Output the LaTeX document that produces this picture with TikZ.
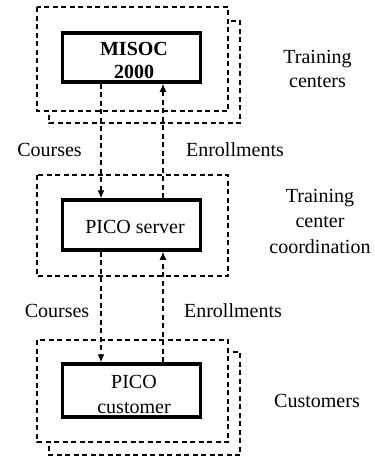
\documentclass[tikz,border=0pt]{standalone}
\usepackage{fontspec}
\setmainfont{Liberation Serif}
\usetikzlibrary{arrows.meta}
\begin{document}
\begin{tikzpicture}[x=1pt,y=-1pt,
  grp/.style={draw, line width=1.4pt, dash pattern=on 5pt off 3.5pt},
  grpfront/.style={grp, fill=white},
  sys/.style={draw, line width=3.5pt, fill=white, minimum width=138pt, inner sep=0pt},
  flow/.style={line width=1.2pt, dash pattern=on 5pt off 3.5pt, -{Latex[length=8pt,width=7pt]}},
  txt/.style={font=\fontsize{20}{24}\selectfont, anchor=base, inner sep=0pt},
  btxt/.style={txt, font=\fontsize{20}{24}\selectfont\bfseries}]
\useasboundingbox (0,0) rectangle (375,456);
% top group
\draw[grp] (49,21) rectangle (240,123);
\draw[grpfront] (37,7) rectangle (228,111);
\node[sys, minimum height=49pt] (misoc) at (131.5,57.5) {};
\node[btxt] (t1) at (134,55) {MISOC};
\node[btxt] (t2) at (134,78) {2000};
% middle group
\draw[grp] (37,175) rectangle (228,276);
\node[sys, minimum height=50pt] (server) at (131.5,225) {};
\node[txt] (t3) at (135,233) {PICO server};
% bottom group
\draw[grp] (49,352) rectangle (240,455);
\draw[grpfront] (37,340) rectangle (228,442);
\node[sys, minimum height=53pt] (cust) at (131.5,390.5) {};
\node[txt] (t4) at (134,388) {PICO};
\node[txt] (t5) at (134,413) {customer};
% flows
\coordinate (cx) at (101,0);
\coordinate (ex) at (163,0);
\draw[flow] (misoc.south -| cx) -- (server.north -| cx);
\draw[flow] (server.north -| ex) -- (misoc.south -| ex);
\draw[flow] (server.south -| cx) -- (cust.north -| cx);
\draw[flow] (cust.north -| ex) -- (server.south -| ex);
% labels
\node[txt] (l1) at (49.5,156) {Courses};
\node[txt] (l2) at (235,156) {Enrollments};
\node[txt] (l3) at (57,317) {Courses};
\node[txt] (l4) at (233,317) {Enrollments};
\node[txt] (r1a) at (317.5,63) {Training};
\node[txt] (r1b) at (317.5,87) {centers};
\node[txt] (r2a) at (320,202) {Training};
\node[txt] (r2b) at (320,227) {center};
\node[txt] (r2c) at (320,253) {coordination};
\node[txt] (r3) at (317,407) {Customers};
\end{tikzpicture}
\end{document}
